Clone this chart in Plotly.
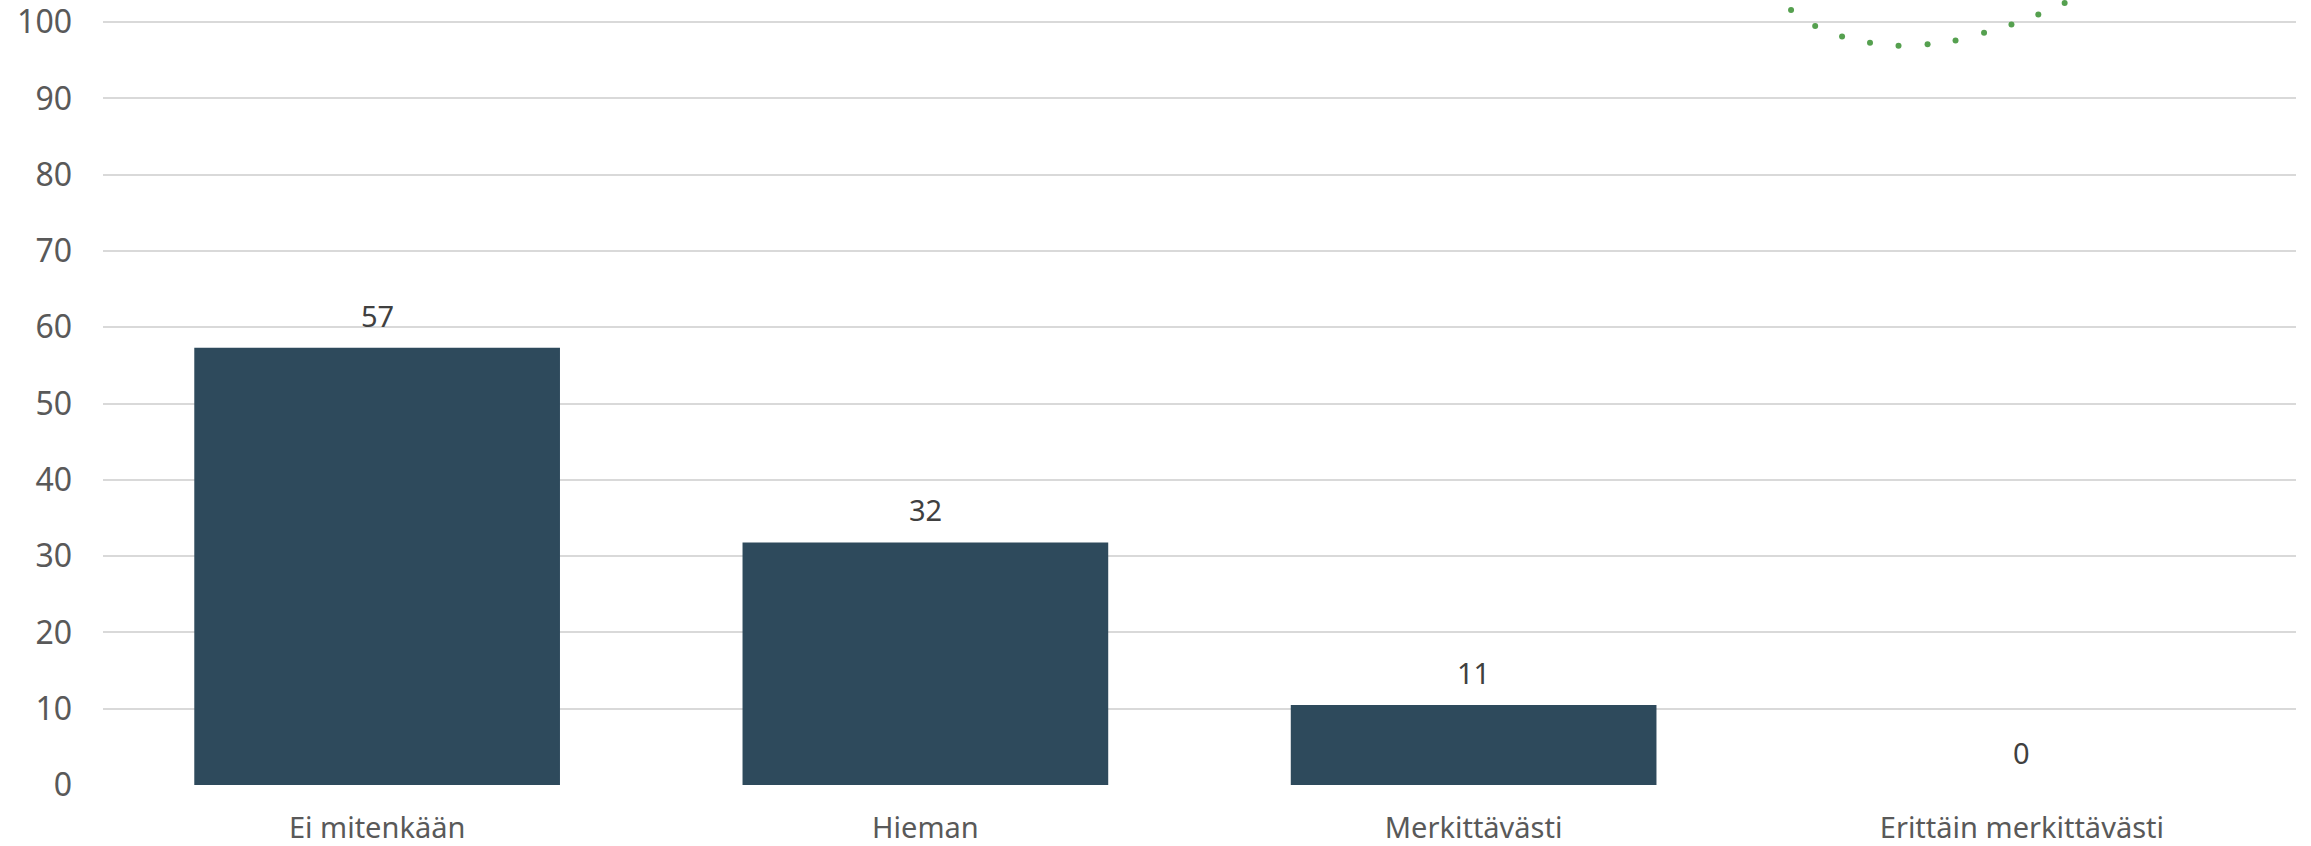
import plotly.graph_objects as go

categories = ["Ei mitenkään", "Hieman", "Merkittävästi", "Erittäin merkittävästi"]
values = [57.3, 31.8, 10.5, 0]
labels = ["57", "32", "11", "0"]

# dotted trend curve (partly outside the visible area)
trend_x = [2.579, 2.623, 2.672, 2.723, 2.775, 2.828, 2.879, 2.931, 2.981, 3.030, 3.078]
trend_y = [101.6, 99.5, 98.1, 97.3, 96.9, 97.1, 97.6, 98.6, 99.7, 101.0, 102.5]

ytick_vals = [0, 10, 20, 30, 40, 50, 60, 70, 80, 90, 100]

FONT = "Noto Sans"
xs = list(range(len(categories)))
fig = go.Figure()
fig.add_trace(go.Bar(
    x=xs, y=values,
    marker=dict(color="#2E4A5C", line=dict(width=0)),
    width=0.667, hoverinfo="skip",
))
fig.add_trace(go.Scatter(
    x=trend_x, y=trend_y, mode="markers",
    marker=dict(color="#55A04F", size=6),
    hoverinfo="skip", cliponaxis=True,
))
for xi, v, lab in zip(xs, values, labels):
    fig.add_annotation(
        x=xi, y=v, text=lab, showarrow=False, yanchor="bottom",
        yshift=11, font=dict(family=FONT, size=29, color="#404040"),
    )
fig.update_layout(
    width=2311, height=846,
    margin=dict(l=103, r=15, t=0, b=61),
    paper_bgcolor="white", plot_bgcolor="white",
    showlegend=False,
    font=dict(family=FONT, color="#595959"),
    xaxis=dict(
        tickmode="array", tickvals=xs, ticktext=categories,
        range=[-0.5, 3.5], showgrid=False, zeroline=False, showline=False,
        tickfont=dict(family=FONT, size=29, color="#595959"),
        ticks="", ticklabelstandoff=23, automargin=False,
        ticklabeloverflow="allow",
    ),
    yaxis=dict(
        range=[0, 102.9], tickmode="array", tickvals=ytick_vals,
        showgrid=True, gridcolor="#D9D9D9", gridwidth=2,
        zeroline=False, showline=False, ticks="",
        tickfont=dict(family=FONT, size=32, color="#595959"),
        ticklabelstandoff=30, automargin=False,
        ticklabeloverflow="allow",
    ),
)
fig.write_html(
    "out.html",
    config={"displayModeBar": False, "staticPlot": True},
    post_script="document.body.style.margin='0';document.body.style.overflow='hidden';",
)
